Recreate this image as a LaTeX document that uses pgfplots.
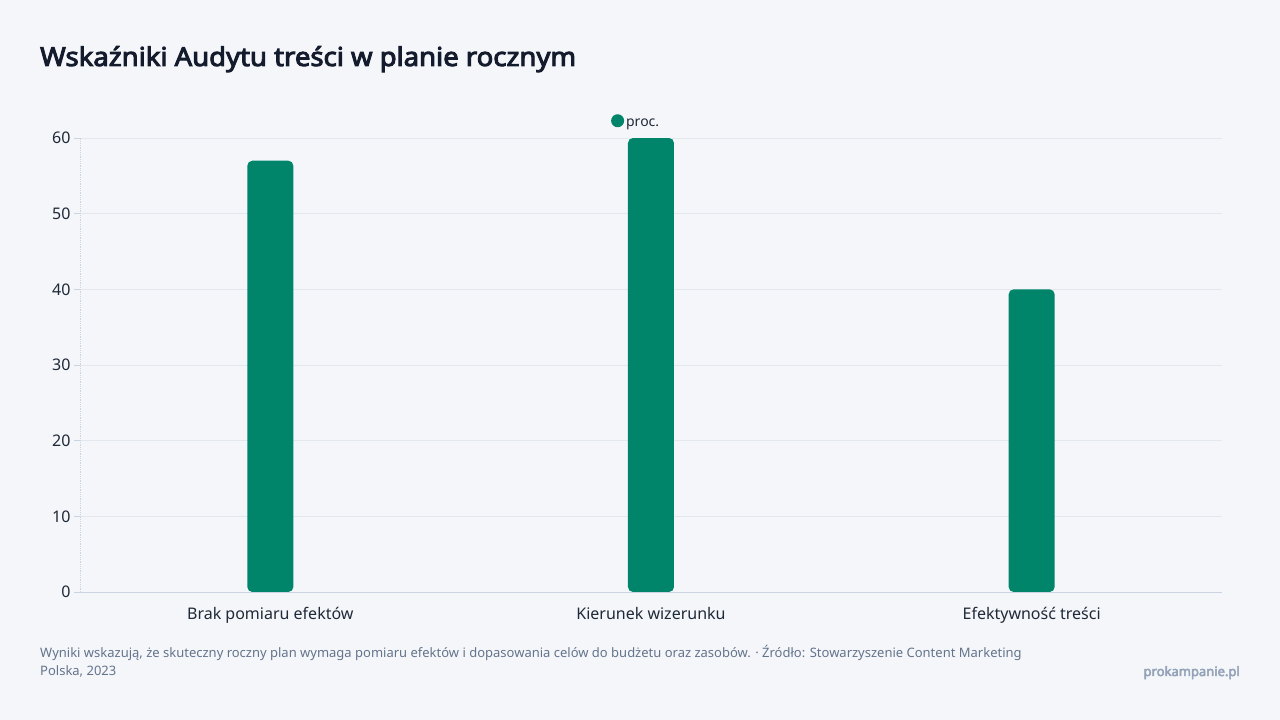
\documentclass[border=0pt]{standalone}
\usepackage{fontspec}
\setmainfont{Noto Sans}[AutoFakeBold=3.5]
\usepackage{pgfplots}
\pgfplotsset{compat=1.18}
\definecolor{bg}{HTML}{F4F6FA}
\definecolor{barc}{HTML}{00856A}
\definecolor{titlec}{HTML}{141B2D}
\definecolor{tickc}{HTML}{1F2937}
\definecolor{gridc}{HTML}{E3E8EF}
\definecolor{axisc}{HTML}{CBD5E1}
\definecolor{footc}{HTML}{64748B}
\definecolor{brandc}{HTML}{94A3B8}

\begin{document}
\begin{tikzpicture}[x=1pt,y=1pt]
\fill[bg] (0,0) rectangle (1280,720);
\useasboundingbox (0,0) rectangle (1280,720);
\node[anchor=base west, font=\fontsize{26}{30}\selectfont\bfseries, text=titlec, inner sep=0,
  xscale=1.057, transform shape]
  at (40,654) {Wskaźniki Audytu treści w planie rocznym};
\begin{axis}[
  at={(80pt,128pt)}, anchor=south west, scale only axis,
  width=1142pt, height=454pt,
  xmin=-0.5, xmax=2.5, ymin=0, ymax=60,
  xtick={0,1,2},
  xticklabels={Brak pomiaru efektów, Kierunek wizerunku, Efektywność treści},
  ytick={0,10,...,60},
  axis x line*=bottom, axis y line*=left,
  x axis line style={axisc, line width=0.8pt, -},
  y axis line style={axisc, densely dotted, line width=0.8pt, -},
  tick align=outside, major tick length=6pt,
  xtick style={draw=none},
  ytick style={axisc, line width=0.8pt},
  ymajorgrids, grid style={gridc, line width=0.8pt},
  /pgf/number format/assume math mode=true,
  ticklabel style={font=\fontsize{16}{18}\selectfont, text=tickc},
  xticklabel style={yshift=-6pt},
  legend style={at={(0.487,1)}, anchor=south, yshift=6pt, draw=none, fill=none,
    font=\fontsize{14}{16}\selectfont, text=tickc},
  legend image code/.code={\fill[barc] (-2.5pt,2.5pt) circle (6.5pt);},
]
\addplot[ybar, bar width=46pt, fill=barc, draw=none, rounded corners=5pt]
  coordinates {(0,57) (1,60) (2,40)};
\addlegendentry{proc.}
\end{axis}
\node[anchor=base west, align=left, font=\fontsize{13}{18}\selectfont, text=footc, inner sep=0]
  at (40,44) {Wyniki wskazują, że skuteczny roczny plan wymaga pomiaru efektów i dopasowania celów do budżetu oraz zasobów. · Źródło: Stowarzyszenie Content Marketing\\Polska, 2023};
\node[anchor=base east, font=\fontsize{13}{16}\selectfont\bfseries, text=brandc, inner sep=0]
  at (1240,44) {prokampanie.pl};
\end{tikzpicture}
\end{document}
